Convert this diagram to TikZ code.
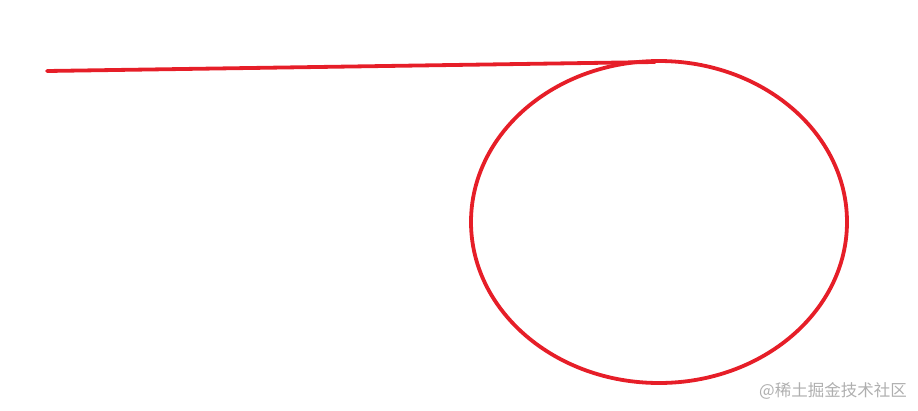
\documentclass[tikz,border=0pt]{standalone}
\usepackage{fontspec}
\usetikzlibrary{shapes.geometric}
\newfontfamily\cjk{Noto Sans CJK SC}
\definecolor{penred}{RGB}{230,30,40}
\definecolor{wm}{RGB}{175,175,175}
\begin{document}
\begin{tikzpicture}[x=1pt,y=-1pt,
  stroke/.style={draw=penred,line width=3.8pt,line cap=round},
  mark text/.style={text=wm,font=\cjk\fontsize{16.5}{16.5}\selectfont,inner sep=0pt,anchor=east}]
\useasboundingbox (0,0) rectangle (918,410);
\coordinate (start) at (47,71);
\coordinate (top) at (655,62);
\node[stroke,ellipse,minimum width=376pt,minimum height=322pt,inner sep=0pt] (loop) at (659,222) {};
\draw[stroke] (start) -- (top);
\node[mark text] (wmark) at (907,391) {@稀土掘金技术社区};
\end{tikzpicture}
\end{document}
